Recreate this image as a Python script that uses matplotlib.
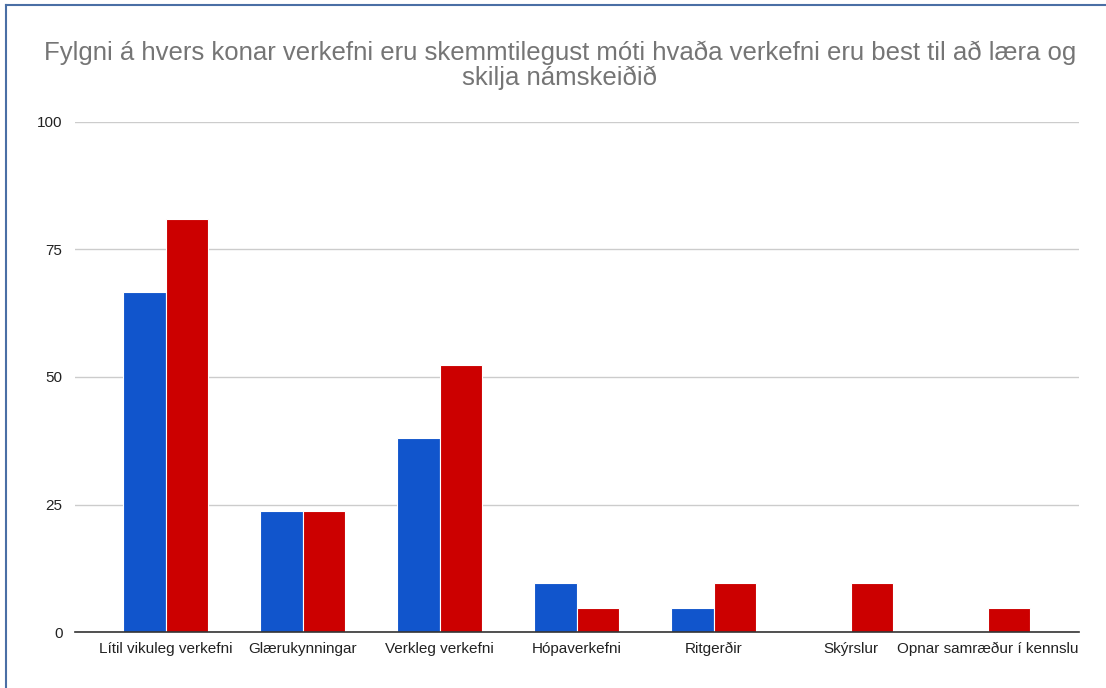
import matplotlib
matplotlib.use("Agg")
import matplotlib.pyplot as plt
import numpy as np
from matplotlib.lines import Line2D

categories = ["Lítil vikuleg verkefni", "Glærukynningar", "Verkleg verkefni",
              "Hópaverkefni", "Ritgerðir", "Skýrslur", "Opnar samræður í kennslu"]
series_blue = [66.67, 23.81, 38.10, 9.52, 4.76, 0, 0]
series_red = [80.95, 23.81, 52.38, 4.76, 9.52, 9.52, 4.76]
yticks = [0, 25, 50, 75, 100]
title = "Fylgni á hvers konar verkefni eru skemmtilegust móti hvaða verkefni eru best til að læra og\nskilja námskeiðið"

plt.rcParams['font.family'] = ['Liberation Sans', 'DejaVu Sans']

fig = plt.figure(figsize=(11.06, 6.88), dpi=100)
ax = fig.add_axes([75/1106, 56/688, 1004/1106, 510/688])

x = np.arange(len(categories))
w = 0.31
ax.bar(x - w/2, series_blue, width=w, color="#1155cc", edgecolor="white", linewidth=0.8, zorder=3)
ax.bar(x + w/2, series_red, width=w, color="#cc0000", edgecolor="white", linewidth=0.8, zorder=3)

ax.set_xlim(-0.664, 6.668)
ax.set_ylim(0, 100)
ax.set_yticks(yticks)
ax.set_yticklabels([str(v) for v in yticks], fontsize=11, color="#222222")
ax.set_xticks(x)
ax.set_xticklabels(categories, fontsize=11, color="#222222")
ax.tick_params(axis='both', length=0)
ax.tick_params(axis='y', pad=9)
ax.tick_params(axis='x', pad=7)
ax.grid(axis='y', color="#cccccc", linewidth=1, zorder=0)
for s in ["top", "right", "left"]:
    ax.spines[s].set_visible(False)
ax.spines["bottom"].set_color("#333333")
ax.spines["bottom"].set_linewidth(1.2)
ax.spines["bottom"].set_zorder(4)

fig.text(560/1106, 1 - 65/688, title, ha="center", va="center", fontsize=18.5,
         color="#757575", linespacing=1.02)

# frame lines (top and left edges of surrounding box)
fig.add_artist(Line2D([6/1106, 1], [1 - 5/688, 1 - 5/688], color="#4a6fa5", linewidth=1.5, transform=fig.transFigure))
fig.add_artist(Line2D([6/1106, 6/1106], [0, 1 - 5/688], color="#4a6fa5", linewidth=1.5, transform=fig.transFigure))

fig.savefig("out.png", dpi=100, facecolor="white")
